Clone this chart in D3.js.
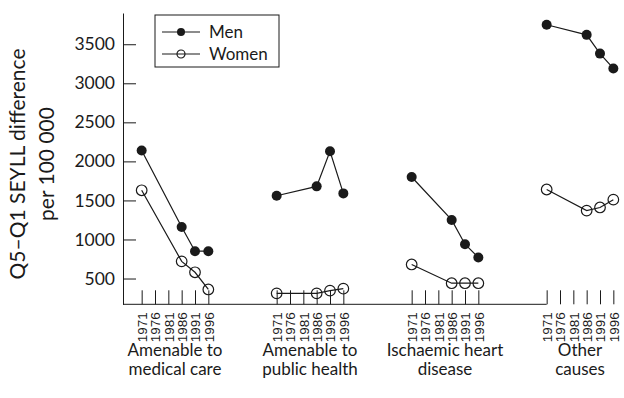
<!DOCTYPE html>
<html>
<head>
<meta charset="utf-8">
<script src="https://cdn.jsdelivr.net/npm/d3@7"></script>
<style>
  html, body { margin: 0; padding: 0; background: #fff; }
  svg { display: block; font-family: Lato, "Noto Sans", sans-serif; }
</style>
</head>
<body>
<svg id="chart" width="624" height="398"></svg>
<script>
// ---- data ----
const categories = ["Amenable to medical care", "Amenable to public health", "Ischaemic heart disease", "Other causes"];
const categoryLines = [["Amenable to", "medical care"], ["Amenable to", "public health"], ["Ischaemic heart", "disease"], ["Other", "causes"]];
const years = [1971, 1976, 1981, 1986, 1991, 1996];
const yTicks = [500, 1000, 1500, 2000, 2500, 3000, 3500];
// values per year (null = not measured)
const menMedical   = [2140, null, null, 1160, 850, 850];
const menPublic    = [1560, null, null, 1680, 2130, 1590];
const menIHD       = [1800, null, null, 1250, 940, 770];
const menOther     = [3750, null, null, 3620, 3380, 3190];
const womenMedical = [1630, null, null, 720, 580, 360];
const womenPublic  = [310, null, null, 310, 345, 370];
const womenIHD     = [680, null, null, 440, 440, 440];
const womenOther   = [1640, null, null, 1370, 1410, 1510];
const seriesNames = ["Men", "Women"];

const menByCat = [menMedical, menPublic, menIHD, menOther];
const womenByCat = [womenMedical, womenPublic, womenIHD, womenOther];

// ---- layout ----
const svg = d3.select("#chart");
const axisX = 123;
const y = d3.scaleLinear().domain([170, 3900]).range([304.3, 13]);
const xGroup = d3.scaleBand().domain(categories).range([107.5, 647.5]);
const xYear = d3.scalePoint().domain(years).range([0, xGroup.bandwidth()]).padding(2.5625);
const ink = "#1a1a1a";

// y axis
const yAxis = d3.axisLeft(y).tickValues(yTicks).tickSizeInner(-13).tickSizeOuter(0).tickPadding(8).tickFormat(d3.format("d"));
const gy = svg.append("g").attr("transform", `translate(${axisX},0)`).call(yAxis);
gy.selectAll("path, line").attr("stroke", ink).attr("stroke-width", 1);
gy.selectAll("text").attr("fill", ink).style("font-size", "17.5px").style("font-family", "Lato, sans-serif");

// x baseline (ends at first year of last group)
const baseY = y.range()[0];
svg.append("line")
  .attr("x1", axisX).attr("x2", xGroup(categories[categories.length - 1]) + xYear(years[0]))
  .attr("y1", baseY).attr("y2", baseY)
  .attr("stroke", ink).attr("stroke-width", 1);

// per-group year axes
categories.forEach((c, i) => {
  const g = svg.append("g").attr("transform", `translate(${xGroup(c)},${baseY})`)
    .call(d3.axisBottom(xYear).tickSizeInner(-14).tickSizeOuter(0).tickPadding(0));
  g.select(".domain").remove();
  g.selectAll("line").attr("stroke", ink).attr("stroke-width", 1);
  g.selectAll("text")
    .attr("transform", "rotate(-90)")
    .attr("x", -8).attr("y", 0).attr("dy", "0.36em")
    .style("text-anchor", "end")
    .style("font-size", "13.5px")
    .attr("fill", ink);
  // category labels
  const t = svg.append("text")
    .attr("x", xGroup(c) + xGroup.bandwidth() / 2)
    .attr("y", 355.5)
    .attr("text-anchor", "middle")
    .style("font-size", "17px")
    .attr("fill", ink);
  categoryLines[i].forEach((ln, k) => {
    t.append("tspan").attr("x", xGroup(c) + xGroup.bandwidth() / 2).attr("dy", k === 0 ? 0 : 19.5).text(ln);
  });
});

// y title
const title = svg.append("text")
  .attr("transform", `translate(25,164) rotate(-90)`)
  .attr("text-anchor", "middle")
  .style("font-size", "21px")
  .attr("fill", ink);
title.append("tspan").attr("x", 0).attr("y", 0).text("Q5–Q1 SEYLL difference");
title.append("tspan").attr("x", 0).attr("y", 29).text("per 100 000");

// series
function drawSeries(byCat, filled) {
  categories.forEach((c, i) => {
    const pts = years.map((yr, k) => ({ x: xGroup(c) + xYear(yr), v: byCat[i][k] })).filter(d => d.v != null);
    svg.append("path").datum(pts)
      .attr("d", d3.line().x(d => d.x).y(d => y(d.v)))
      .attr("fill", "none").attr("stroke", ink).attr("stroke-width", 1.2);
    svg.selectAll(null).data(pts).enter().append("circle")
      .attr("cx", d => d.x).attr("cy", d => y(d.v))
      .attr("r", filled ? 5 : 5.3)
      .attr("fill", filled ? ink : "none")
      .attr("stroke", ink).attr("stroke-width", filled ? 0 : 1.2);
  });
}
drawSeries(menByCat, true);
drawSeries(womenByCat, false);

// legend
const lg = svg.append("g").attr("transform", "translate(155,15)");
lg.append("rect").attr("x", 0).attr("y", 0).attr("width", 124).attr("height", 52)
  .attr("fill", "#fff").attr("stroke", ink).attr("stroke-width", 1);
seriesNames.forEach((n, i) => {
  const row = lg.append("g").attr("transform", `translate(0,${17 + i * 22})`);
  row.append("line").attr("x1", 7).attr("x2", 45).attr("y1", 0).attr("y2", 0).attr("stroke", ink).attr("stroke-width", 1.2);
  row.append("circle").attr("cx", 26).attr("cy", 0).attr("r", 4)
    .attr("fill", i === 0 ? ink : "none").attr("stroke", ink).attr("stroke-width", i === 0 ? 0 : 1.2);
  row.append("text").attr("x", 54).attr("y", 0).attr("dy", "0.35em").style("font-size", "17px").attr("fill", ink).text(n);
});
</script>
</body>
</html>
